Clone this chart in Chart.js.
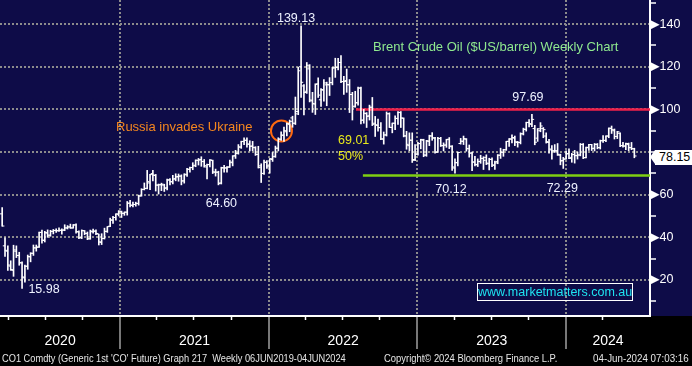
<!DOCTYPE html>
<html>
<head>
<meta charset="utf-8">
<script src="https://cdn.jsdelivr.net/npm/chart.js@4.4.1/dist/chart.umd.min.js"></script>
<style>
  html, body { margin: 0; padding: 0; background: #000; }
  #wrap { position: relative; width: 692px; height: 366px; overflow: hidden; background: #000; }
  #chart { position: absolute; left: 0; top: 0; }
  .note { position: absolute; white-space: nowrap; font-family: 'Liberation Sans', Arial, sans-serif; font-size: 12.5px; line-height: 1; color: #eef2ff; }
  .value { transform: translate(-50%, -50%); }
  #title { left: 373px; top: 40px; font-size: 13px; color: #8fe98f; }
  #event { left: 116px; top: 120px; font-size: 13px; color: #f5871f; }
  #fibo { left: 338px; top: 132px; line-height: 16px; color: #e8e81c; }
  #site { left: 477px; top: 283px; width: 156px; height: 18px; line-height: 17px; text-align: center; border: 1px solid #fff; color: #1ee3f0; font-size: 12.5px; box-sizing: border-box; }
  #last { left: 655px; width: 40px; height: 15px; line-height: 15px; padding-left: 4px; background: #fff; color: #000; box-sizing: border-box; }
  #last::before { content: ''; position: absolute; left: -5px; top: 0; border-top: 7.5px solid transparent; border-bottom: 7.5px solid transparent; border-right: 5px solid #fff; }
  .foot { position: absolute; top: 353px; white-space: nowrap; font-family: 'Liberation Sans', sans-serif; font-size: 11px; line-height: 1; color: #e6e6e6; transform-origin: 0 0; }
</style>
</head>
<body>
<div id="wrap">
  <canvas id="chart" width="692" height="366"></canvas>
  <div id="title" class="note">Brent Crude Oil ($US/barrel) Weekly Chart</div>
  <div id="event" class="note">Russia invades Ukraine</div>
  <div id="fibo" class="note"></div>
  <div id="site" class="note">www.marketmatters.com.au</div>
  <div id="last" class="note"></div>
  <div class="foot" data-w="344" style="left:2px">CO1 Comdty (Generic 1st 'CO' Future) Graph 217&nbsp; Weekly 06JUN2019-04JUN2024</div>
  <div class="foot" data-w="173" style="left:384px">Copyright© 2024 Bloomberg Finance L.P.</div>
  <div class="foot" data-w="96" style="left:593px">04-Jun-2024 07:03:16</div>
</div>
<script>
// Friday of the first weekly bar on screen
const firstWeek = '2020-03-06';

// weekly bars, [open, high, low, close]
const weeks2020 = [
  [51.0, 53.9, 45.2, 45.3], [36.0, 39.8, 31.0, 33.9], [33.5, 36.0, 24.5, 27.0], [26.5, 29.0, 24.5, 24.9],
  [24.5, 36.3, 21.7, 34.1], [33.5, 36.0, 30.5, 31.5], [31.5, 33.0, 26.9, 28.1], [28.0, 28.5, 15.98, 21.4],
  [21.0, 27.0, 19.0, 26.4], [26.5, 31.7, 25.0, 31.0], [30.8, 32.8, 28.5, 32.5], [32.5, 36.4, 31.5, 35.1],
  [35.0, 36.4, 33.5, 35.3], [35.5, 42.5, 35.3, 42.3], [42.3, 43.4, 37.2, 38.7], [38.5, 42.8, 37.8, 42.2],
  [42.0, 43.5, 40.0, 41.0], [41.0, 43.3, 40.5, 42.8], [42.8, 43.7, 41.6, 43.2], [43.2, 44.0, 42.3, 43.1],
  [43.1, 44.5, 42.8, 43.3], [43.3, 44.0, 41.5, 43.3], [43.5, 45.9, 43.1, 44.4], [44.4, 45.5, 43.9, 44.8],
  [44.9, 46.2, 44.2, 44.4], [44.4, 46.0, 44.3, 45.8], [45.8, 46.3, 42.0, 42.7], [42.5, 43.0, 39.4, 39.8],
  [39.8, 43.5, 39.4, 43.2], [43.0, 43.2, 41.2, 41.9], [41.8, 42.5, 38.9, 39.3], [39.3, 43.4, 39.1, 42.9],
  [42.6, 43.9, 42.0, 42.9], [42.9, 43.5, 41.3, 41.8], [41.5, 41.5, 36.4, 37.9], [37.6, 41.7, 36.6, 39.5],
  [39.4, 44.3, 39.2, 42.8], [42.8, 45.0, 42.3, 45.0], [45.2, 49.0, 45.0, 48.2], [48.0, 49.9, 46.5, 49.3],
  [49.3, 51.0, 48.0, 51.0], [50.8, 52.5, 50.0, 52.3], [52.0, 52.3, 49.3, 51.3]
];
const weeks2021 = [
  [51.2, 51.9, 50.3, 51.8], [51.8, 56.8, 50.4, 56.0], [56.0, 57.4, 54.2, 55.1], [55.0, 56.5, 54.2, 55.4],
  [55.4, 56.5, 54.6, 55.9], [55.9, 59.8, 55.1, 59.3], [59.5, 62.8, 59.3, 62.4], [62.5, 65.5, 62.2, 62.9],
  [63.0, 71.4, 62.7, 66.1], [65.5, 69.6, 62.3, 69.4], [69.9, 71.4, 66.5, 69.2], [69.0, 69.5, 61.7, 64.5],
  [64.5, 65.0, 60.3, 64.6], [64.7, 65.4, 61.9, 64.9], [64.5, 64.9, 61.5, 63.0], [63.2, 67.3, 62.2, 66.8],
  [67.0, 67.6, 64.6, 66.1], [66.0, 69.1, 65.1, 67.3], [67.5, 69.8, 66.5, 68.3], [68.5, 69.7, 66.3, 68.7],
  [68.7, 69.3, 64.6, 66.4], [66.5, 69.8, 65.4, 69.6], [69.3, 72.3, 68.6, 71.9], [71.9, 73.0, 70.5, 72.7],
  [72.7, 75.0, 71.7, 73.5], [73.8, 76.3, 73.1, 76.2], [76.0, 77.0, 73.9, 76.2], [76.5, 77.8, 73.3, 75.6],
  [75.5, 76.5, 72.9, 73.6], [73.0, 74.3, 67.4, 74.1], [74.1, 76.5, 73.0, 76.3], [76.0, 76.2, 69.9, 70.7],
  [70.5, 72.0, 68.7, 70.6], [70.5, 71.0, 64.60, 65.2], [65.5, 72.9, 65.0, 72.7], [72.5, 73.8, 70.6, 72.6],
  [72.5, 73.2, 70.6, 72.9], [73.0, 76.2, 72.8, 75.3], [75.0, 78.3, 73.5, 78.1], [78.3, 80.8, 77.0, 79.3],
  [79.5, 83.5, 79.0, 82.4], [82.3, 85.1, 81.7, 84.9], [85.0, 86.7, 83.5, 85.5], [85.5, 86.7, 82.3, 83.7],
  [83.7, 85.3, 80.5, 82.7], [82.8, 85.0, 80.6, 82.2], [82.0, 82.5, 78.4, 78.9], [78.9, 82.7, 72.5, 72.7],
  [73.5, 74.5, 65.7, 69.9], [70.0, 76.2, 69.5, 75.2], [75.2, 76.0, 72.3, 73.5], [73.0, 76.9, 70.1, 76.9],
  [76.5, 79.8, 75.6, 77.8]
];
const weeks2022 = [
  [78.0, 82.8, 77.5, 81.8], [81.8, 86.7, 80.5, 86.1], [86.0, 89.5, 85.4, 87.9], [87.9, 91.7, 85.0, 90.0],
  [89.5, 93.7, 87.5, 93.3], [93.0, 95.0, 89.5, 94.4], [96.0, 96.8, 91.6, 93.5], [93.5, 105.8, 92.9, 97.9],
  [99.0, 119.8, 97.5, 118.1], [120.0, 139.13, 105.6, 112.7], [111.0, 111.6, 97.4, 107.9], [108.5, 122.0, 107.5, 120.7],
  [119.0, 121.0, 103.5, 104.4], [104.0, 108.0, 98.6, 102.8], [102.5, 112.0, 97.6, 111.7], [112.0, 114.8, 105.6, 106.7],
  [104.5, 109.8, 101.4, 109.3], [109.0, 114.0, 103.8, 112.4], [111.5, 112.8, 101.7, 111.6], [111.5, 114.9, 106.5, 112.6],
  [112.5, 119.7, 111.5, 119.4], [119.5, 124.0, 115.0, 119.7], [119.7, 124.0, 118.5, 122.0], [122.0, 125.2, 112.5, 113.1],
  [113.0, 115.5, 107.0, 113.1], [113.5, 118.9, 108.0, 111.6], [111.5, 114.0, 98.5, 107.0], [107.0, 108.0, 95.0, 101.2],
  [101.5, 108.5, 101.0, 103.2], [103.0, 110.5, 102.0, 110.0], [110.0, 110.5, 93.2, 94.9], [95.0, 100.0, 93.5, 98.2],
  [98.0, 98.5, 91.5, 96.7], [97.0, 102.0, 95.0, 101.0], [101.0, 105.6, 92.4, 93.0], [93.5, 96.7, 87.3, 92.8],
  [92.5, 95.4, 89.8, 91.4], [91.5, 93.8, 85.8, 86.2], [86.0, 89.4, 83.7, 88.0], [88.0, 98.8, 87.5, 97.9],
  [98.0, 98.4, 91.5, 91.6], [91.5, 93.6, 89.0, 93.5], [93.5, 97.0, 90.5, 95.8], [95.7, 99.0, 93.0, 98.6],
  [98.5, 99.0, 91.5, 96.0], [95.8, 96.0, 87.1, 87.6], [87.5, 89.7, 81.3, 83.6], [83.0, 89.0, 80.6, 85.6],
  [85.5, 89.0, 75.1, 76.1], [76.5, 83.5, 76.0, 79.0], [79.0, 84.5, 78.5, 83.9], [84.0, 86.0, 81.5, 85.9]
];
const weeks2023 = [
  [85.5, 86.0, 77.8, 78.6], [78.5, 85.5, 78.0, 85.3], [85.0, 87.9, 83.0, 87.6], [87.5, 89.1, 85.5, 86.7],
  [86.5, 86.9, 79.5, 79.9], [80.0, 86.9, 79.8, 86.4], [86.3, 86.9, 82.6, 83.0], [83.0, 84.3, 80.5, 83.2],
  [83.3, 86.0, 82.2, 85.8], [86.0, 86.8, 81.6, 82.8], [82.5, 83.0, 71.4, 73.0], [72.5, 76.8, 70.12, 75.0],
  [75.0, 80.0, 73.5, 79.8], [84.0, 86.4, 83.7, 85.1], [85.0, 87.5, 83.5, 86.3], [86.0, 86.3, 80.4, 81.7],
  [81.5, 83.3, 77.6, 79.5], [79.5, 80.0, 71.3, 75.3], [75.3, 78.0, 73.5, 74.2], [74.0, 76.8, 73.2, 75.6],
  [75.5, 78.5, 74.7, 77.0], [77.0, 77.8, 71.8, 76.1], [77.5, 78.7, 74.1, 74.8], [74.5, 77.1, 71.6, 76.6],
  [76.5, 77.3, 73.1, 73.9], [73.8, 75.7, 71.8, 74.9], [75.5, 78.8, 74.5, 78.5], [78.5, 81.8, 77.0, 79.9],
  [79.9, 81.3, 78.0, 81.1], [81.0, 85.0, 80.8, 85.0], [85.0, 86.3, 82.6, 86.2], [86.0, 88.1, 84.3, 86.8],
  [86.5, 87.5, 83.0, 84.8], [84.5, 85.0, 82.3, 84.5], [84.5, 89.0, 83.8, 88.6], [88.5, 91.2, 88.0, 90.7],
  [90.6, 94.0, 89.8, 93.9], [93.8, 95.2, 91.8, 93.3], [93.0, 97.69, 91.9, 95.3], [91.0, 92.5, 83.4, 84.6],
  [86.5, 91.0, 85.0, 90.9], [90.0, 93.8, 89.5, 92.2], [91.0, 91.5, 86.7, 90.5], [87.5, 89.0, 84.2, 84.9],
  [84.5, 86.0, 79.5, 81.4], [81.0, 83.0, 76.6, 80.6], [80.5, 83.5, 79.8, 80.6], [80.5, 84.0, 78.4, 78.9],
  [78.5, 79.0, 74.0, 75.8], [76.0, 77.5, 72.29, 76.6], [76.8, 80.6, 76.6, 79.1], [79.3, 81.5, 76.9, 77.0]
];
const weeks2024 = [
  [77.5, 79.4, 75.2, 78.8], [78.8, 80.8, 74.8, 78.3], [78.3, 80.0, 76.7, 78.6], [78.6, 84.0, 78.2, 83.6],
  [83.5, 84.0, 76.9, 77.3], [77.4, 82.3, 77.2, 82.2], [82.0, 83.6, 80.8, 83.5], [83.5, 83.6, 80.7, 81.6],
  [81.8, 84.0, 80.5, 83.6], [83.6, 84.0, 81.5, 82.1], [82.0, 85.6, 81.4, 85.3], [85.3, 87.7, 84.5, 85.4],
  [85.5, 87.6, 84.8, 87.5], [87.5, 91.3, 86.7, 91.2], [91.0, 92.2, 88.7, 90.5], [90.0, 90.8, 86.1, 87.3],
  [87.3, 89.7, 86.3, 89.5], [88.8, 89.0, 82.5, 83.0], [83.0, 84.5, 82.3, 82.8], [82.8, 84.2, 81.1, 84.0],
  [83.5, 84.2, 80.6, 82.1], [82.0, 84.5, 81.1, 81.6], [81.5, 81.8, 77.3, 78.15]
];

const yearStarts = [2021, 2022, 2023, 2024];
const yearNames = ['2020', '2021', '2022', '2023', '2024'];
const quarterStarts = [
  '2020-04-01', '2020-07-01', '2020-10-01', '2021-04-01', '2021-07-01', '2021-10-01',
  '2022-04-01', '2022-07-01', '2022-10-01', '2023-04-01', '2023-07-01', '2023-10-01', '2024-04-01'
];
const priceTicks = [10, 20, 30, 40, 50, 60, 70, 80, 90, 100, 110, 120, 130, 140, 150];
const priceLabels = [20, 40, 60, 80, 100, 120, 140];

const resistance = { value: 100, from: '2022-08-03' };
const fibo = { value: 69.01, from: '2022-08-20', text: '50%' };
const invasion = { date: '2022-02-01', value: 89.9 };

// price callouts: which bar, which end, and where the text sits next to it
const callouts = [
  { week: '2020-04-24', field: 'low', dx: 22, dy: 0 },
  { week: '2021-08-20', field: 'low', dx: 3, dy: 18 },
  { week: '2022-03-11', field: 'high', dx: -5, dy: -8 },
  { week: '2023-03-24', field: 'low', dx: -4, dy: 16 },
  { week: '2023-09-29', field: 'high', dx: -4, dy: -17 },
  { week: '2023-12-15', field: 'low', dx: -1, dy: 20 }
];

const X_MIN = 2020.191, X_MAX = 2024.565;
const Y_MIN = 3.1, Y_MAX = 151.3;
const BAR_LAG = 0.028;        // bars sit a little right of their Friday date
const TICK_OFF = 2.5 / 365.25; // open / close tick offset

const NAVY = '#0e0c48';
const GRID = '#8c8c8c';
const CLEAR = 'rgba(0,0,0,0)';
const DAY = 86400000;

function yearFrac(ms) {
  const y = new Date(ms).getUTCFullYear();
  const a = Date.UTC(y, 0, 1), b = Date.UTC(y + 1, 0, 1);
  return y + (ms - a) / (b - a);
}
const dateFrac = s => yearFrac(Date.parse(s + 'T00:00:00Z'));

const weeks = [...weeks2020, ...weeks2021, ...weeks2022, ...weeks2023, ...weeks2024];
const start = Date.parse(firstWeek + 'T00:00:00Z');
const weekX = weeks.map((_, i) => yearFrac(start + i * 7 * DAY) + BAR_LAG);
const weekIndex = s => Math.round((Date.parse(s + 'T00:00:00Z') - start) / (7 * DAY));
const lastClose = weeks[weeks.length - 1][3];

// year labels sit in the middle of the visible part of each year
const bounds = [X_MIN, ...yearStarts, X_MAX];
const labelAt = new Map();
yearNames.forEach((name, i) => labelAt.set((bounds[i] + bounds[i + 1]) / 2, name));
const xTicks = [...yearStarts, ...labelAt.keys()].sort((a, b) => a - b);
const isYearStart = v => yearStarts.includes(v);

const background = {
  id: 'background',
  beforeDraw(chart) {
    const { ctx, chartArea } = chart;
    ctx.save();
    ctx.fillStyle = NAVY;
    ctx.fillRect(0, 0, chart.width, chartArea.bottom);
    ctx.restore();
  }
};

const chart = new Chart(document.getElementById('chart'), {
  type: 'scatter',
  data: {
    datasets: [
      {
        type: 'bar',
        data: weeks.map((w, i) => ({ x: weekX[i], y: [w[2], w[1]] })),
        backgroundColor: '#ffffff',
        borderWidth: 0,
        barThickness: 1,
        grouped: false
      },
      {
        data: weeks.map((w, i) => ({ x: weekX[i] - TICK_OFF, y: w[0] })),
        pointStyle: 'line', radius: 1.2, borderColor: '#ffffff', borderWidth: 1
      },
      {
        data: weeks.map((w, i) => ({ x: weekX[i] + TICK_OFF, y: w[3] })),
        pointStyle: 'line', radius: 1.2, borderColor: '#ffffff', borderWidth: 1
      },
      {
        type: 'line',
        data: [{ x: dateFrac(resistance.from), y: resistance.value }, { x: X_MAX, y: resistance.value }],
        borderColor: '#f0204a', borderWidth: 2.5, pointRadius: 0
      },
      {
        type: 'line',
        data: [{ x: dateFrac(fibo.from), y: fibo.value }, { x: X_MAX, y: fibo.value }],
        borderColor: '#7fcf12', borderWidth: 2.5, pointRadius: 0
      },
      {
        data: [{ x: dateFrac(invasion.date), y: invasion.value }],
        pointStyle: 'circle', radius: 10.5, borderColor: '#ff6a10', borderWidth: 2,
        backgroundColor: CLEAR
      }
    ]
  },
  options: {
    responsive: false,
    animation: false,
    events: [],
    layout: { padding: 0, autoPadding: false },
    plugins: { legend: { display: false }, tooltip: { enabled: false } },
    scales: {
      // short quarter marks just under the date axis
      xq: {
        type: 'linear', position: 'bottom', weight: -1, min: X_MIN, max: X_MAX, offset: false,
        afterBuildTicks: s => { s.ticks = quarterStarts.map(d => ({ value: dateFrac(d) })); },
        afterFit: s => { s.height = 0; s.paddingLeft = 0; s.paddingRight = 0; },
        grid: { drawOnChartArea: false, tickLength: 4, tickWidth: 1.5, tickColor: '#ffffff' },
        border: { display: false },
        ticks: { display: false }
      },
      x: {
        type: 'linear', position: 'bottom', weight: 1, min: X_MIN, max: X_MAX, offset: false,
        afterBuildTicks: s => { s.ticks = xTicks.map(v => ({ value: v })); },
        afterFit: s => { s.height = 50; s.paddingLeft = 0; s.paddingRight = 0; },
        grid: {
          offset: false,
          color: c => isYearStart(c.tick.value) ? GRID : CLEAR,
          lineWidth: 2,
          tickLength: 33,
          tickWidth: 1.5,
          tickColor: c => isYearStart(c.tick.value) ? '#a0a0a0' : CLEAR,
          tickBorderDash: []
        },
        border: { display: true, color: '#ffffff', width: 2, dash: [2, 2] },
        ticks: {
          autoSkip: false, maxRotation: 0, padding: -16, color: '#ffffff',
          font: { family: "'Liberation Sans'", size: 14 },
          callback: v => labelAt.get(v) || ''
        }
      },
      y: {
        type: 'linear', position: 'right', min: Y_MIN, max: Y_MAX,
        afterBuildTicks: s => { s.ticks = priceTicks.map(v => ({ value: v })); },
        afterFit: s => { s.width = 42; s.paddingTop = 0; s.paddingBottom = 0; },
        grid: {
          color: c => priceLabels.includes(c.tick.value) ? GRID : CLEAR,
          lineWidth: 2,
          tickLength: 6,
          tickWidth: 1.5,
          tickColor: '#ffffff',
          tickBorderDash: []
        },
        border: { display: true, color: '#ffffff', width: 2, dash: [2, 2] },
        ticks: {
          padding: -6, color: '#ffffff',
          font: { family: "'Liberation Sans', 'DejaVu Sans'", size: 12.5 },
          // the last-price flag hides the label it sits on
          callback: v => priceLabels.includes(v) && Math.abs(v - lastClose) > 5 ? '\u25B6' + v : ''
        }
      }
    }
  },
  plugins: [background]
});

// text placed against the scales
const wrap = document.getElementById('wrap');
const xs = chart.scales.x, ys = chart.scales.y;

callouts.forEach(c => {
  const i = weekIndex(c.week);
  const v = c.field === 'high' ? weeks[i][1] : weeks[i][2];
  const el = document.createElement('div');
  el.className = 'note value';
  el.textContent = v.toFixed(2);
  el.style.left = (xs.getPixelForValue(weekX[i]) + c.dx) + 'px';
  el.style.top = (ys.getPixelForValue(v) + c.dy) + 'px';
  wrap.appendChild(el);
});

document.getElementById('fibo').innerHTML = fibo.value.toFixed(2) + '<br>' + fibo.text;

const last = document.getElementById('last');
last.textContent = lastClose.toFixed(2);
last.style.top = (ys.getPixelForValue(lastClose) + 2 - 7.5) + 'px';

// Bloomberg footer runs in a narrow face: squeeze each line to its width
document.querySelectorAll('.foot').forEach(el => {
  el.style.transform = 'scaleX(' + (el.dataset.w / el.offsetWidth) + ')';
});
</script>
</body>
</html>
